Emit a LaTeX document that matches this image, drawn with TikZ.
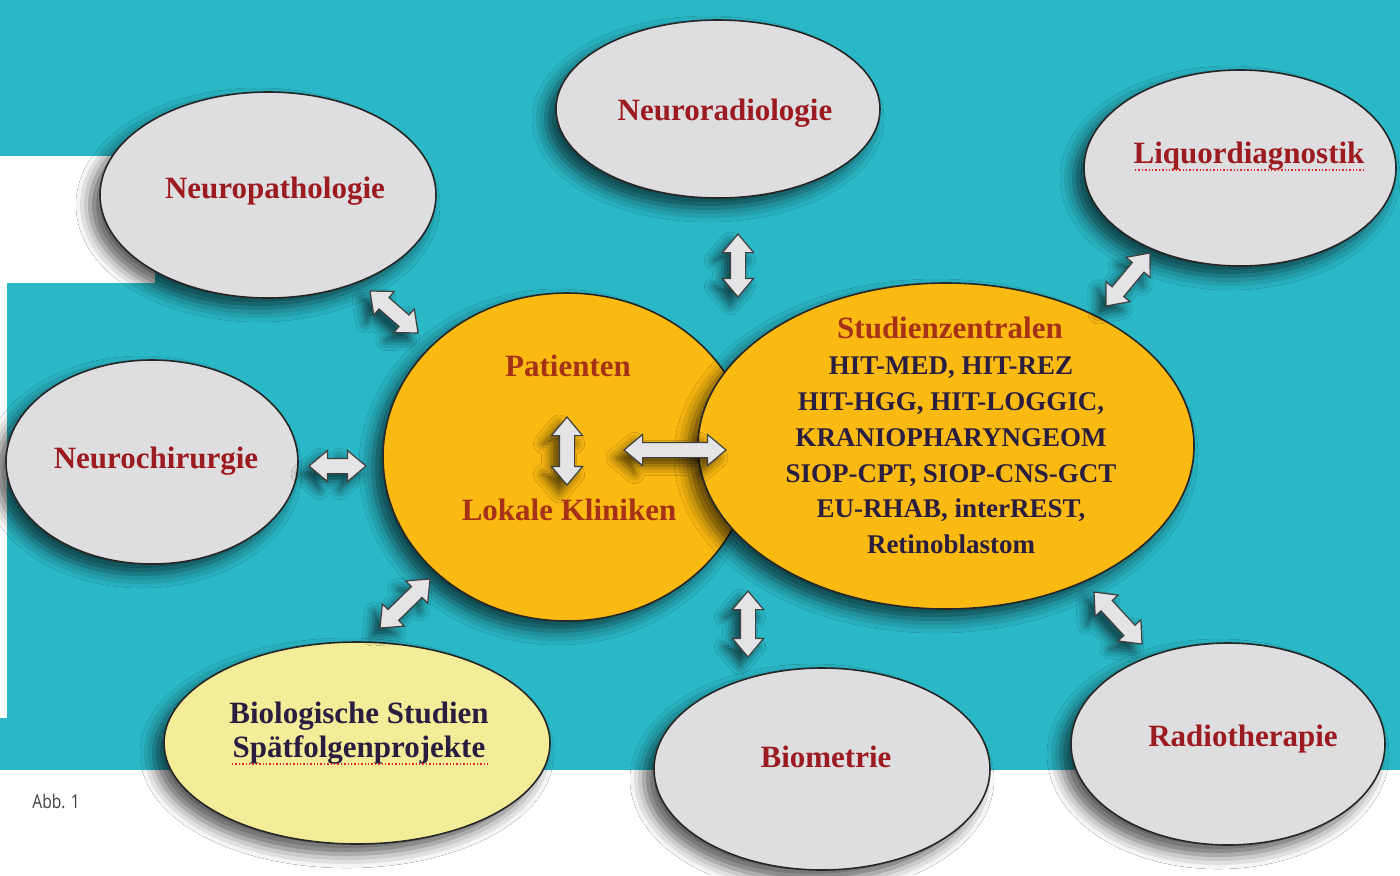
\documentclass[tikz,border=0pt]{standalone}
\usepackage{fontspec}
\setmainfont{Liberation Serif}
\newfontfamily\abbfont[FakeStretch=0.82]{Open Sans}
\usetikzlibrary{shapes.geometric,shapes.arrows,shadows.blur,calc}
\definecolor{bgteal}{RGB}{42,183,198}
\definecolor{bubblegray}{RGB}{222,222,224}
\definecolor{hubor}{RGB}{251,186,18}
\definecolor{bioyellow}{RGB}{243,236,152}
\definecolor{labelred}{RGB}{156,27,32}
\definecolor{hubbrown}{RGB}{165,50,22}
\definecolor{studynavy}{RGB}{42,30,64}
\definecolor{arrowgray}{RGB}{228,228,230}
\definecolor{spellred}{RGB}{225,40,40}
\tikzset{
  softshadow/.style={blur shadow={shadow xshift=-5pt, shadow yshift=-5pt, shadow blur radius=7pt, shadow opacity=65}},
  bubble/.style={ellipse, draw=black!85, line width=0.8pt, inner sep=0pt, softshadow},
  graybubble/.style={bubble, fill=bubblegray},
  hubbubble/.style={bubble, fill=hubor},
  biobubble/.style={bubble, fill=bioyellow},
  unitlabel/.style={font=\bfseries\fontsize{15.5}{17}\selectfont, text=labelred, inner sep=0pt, anchor=base},
  hublabel/.style={font=\bfseries\fontsize{15.5}{17}\selectfont, text=hubbrown, inner sep=0pt, anchor=base},
  studylist/.style={font=\bfseries\fontsize{13.5}{17.9}\selectfont, text=studynavy, inner sep=0pt, align=center},
  biolabel/.style={font=\bfseries\fontsize{15.5}{17}\selectfont, text=studynavy, inner sep=0pt, align=center},
  blockarrow/.style={double arrow, draw=black!75, line width=0.6pt, fill=arrowgray,
    inner xsep=0pt, inner ysep=3.5pt,
    double arrow head extend=4pt, double arrow tip angle=80,
    blur shadow={shadow xshift=-4pt, shadow yshift=-4pt, shadow blur radius=5pt, shadow opacity=65}},
  spellmark/.style={spellred, densely dotted, line width=0.7pt}
}
\newcommand{\blockconn}[2]{%
  \path let \p1=($(#2)-(#1)$), \n1={atan2(\y1,\x1)}, \n2={veclen(\x1,\y1)} in
    node[blockarrow, rotate=\n1, minimum height=\n2] at ($(#1)!0.5!(#2)$) {};}
\begin{document}
\begin{tikzpicture}[x=0.5pt,y=-0.5pt]
\useasboundingbox (0,0) rectangle (1400,875);
% background
\fill[white] (0,0) rectangle (1400,875);
\fill[bgteal] (0,0) rectangle (1400,770);
\fill[white] (0,156) rectangle (155,283);
\fill[white] (0,283) rectangle (7,718);

% outer bubbles
\node[graybubble, minimum width=162pt, minimum height=89pt] (neurorad) at (718,109) {};
\node[graybubble, minimum width=168pt, minimum height=103pt] (neuropath) at (268,195) {};
\node[graybubble, minimum width=156pt, minimum height=98pt] (liquor) at (1240,168) {};
\node[graybubble, minimum width=146pt, minimum height=102pt] (neurochir) at (152,462) {};
\node[graybubble, minimum width=168pt, minimum height=101pt] (biometrie) at (822,769) {};
\node[graybubble, minimum width=157pt, minimum height=101pt] (radio) at (1228,744) {};
\node[biobubble, minimum width=193pt, minimum height=101pt] (bio) at (357,743) {};

% central bubbles
\node[hubbubble, minimum width=184pt, minimum height=164pt] (patienten) at (567,457) {};
\node[hubbubble, minimum width=248pt, minimum height=163pt] (studien) at (946,446) {};

% arrow end points
\coordinate (a1s) at (370,291);  \coordinate (a1e) at (418,333);
\coordinate (a2s) at (738,234);  \coordinate (a2e) at (738,297);
\coordinate (a3s) at (1150,253); \coordinate (a3e) at (1106,306);
\coordinate (a4s) at (309,466);  \coordinate (a4e) at (366,466);
\coordinate (a5s) at (567,417);  \coordinate (a5e) at (567,485);
\coordinate (a6s) at (624,450);  \coordinate (a6e) at (726,450);
\coordinate (a7s) at (430,579);  \coordinate (a7e) at (380,628);
\coordinate (a8s) at (748,591);  \coordinate (a8e) at (748,657);
\coordinate (a9s) at (1094,592); \coordinate (a9e) at (1142,644);
\blockconn{a1s}{a1e}
\blockconn{a2s}{a2e}
\blockconn{a3s}{a3e}
\blockconn{a4s}{a4e}
\blockconn{a5s}{a5e}
\blockconn{a6s}{a6e}
\blockconn{a7s}{a7e}
\blockconn{a8s}{a8e}
\blockconn{a9s}{a9e}

% labels
\node[unitlabel] (tneurorad) at (725,120) {Neuroradiologie};
\node[unitlabel] (tneuropath) at (275,198) {Neuropathologie};
\node[unitlabel] (tliquor) at (1249,163) {Liquordiagnostik};
\node[unitlabel] (tneurochir) at (156,468) {Neurochirurgie};
\node[unitlabel] (tbiometrie) at (826,767) {Biometrie};
\node[unitlabel] (tradio) at (1243,746) {Radiotherapie};
\node[hublabel] (tpat) at (568,376) {Patienten};
\node[hublabel] (tlokal) at (569,520) {Lokale Kliniken};
\node[hublabel] (tstud) at (950,338) {Studienzentralen};
\node[studylist] (tlist) at (951,455.5) {HIT-MED, HIT-REZ\\HIT-HGG, HIT-LOGGIC,\\KRANIOPHARYNGEOM\\SIOP-CPT, SIOP-CNS-GCT\\EU-RHAB, interREST,\\Retinoblastom};
\node[biolabel] (tbio) at (359,733) {Biologische Studien\\Spätfolgenprojekte};

% spell-check marks
\draw[spellmark] (1135,170) -- (1365,170);
\draw[spellmark] (232,764) -- (488,764);

\node[font=\abbfont\fontsize{9.5}{11}\selectfont, text=black!75, anchor=base west, inner sep=0pt] (abb) at (32,808) {Abb. 1};
\end{tikzpicture}
\end{document}
